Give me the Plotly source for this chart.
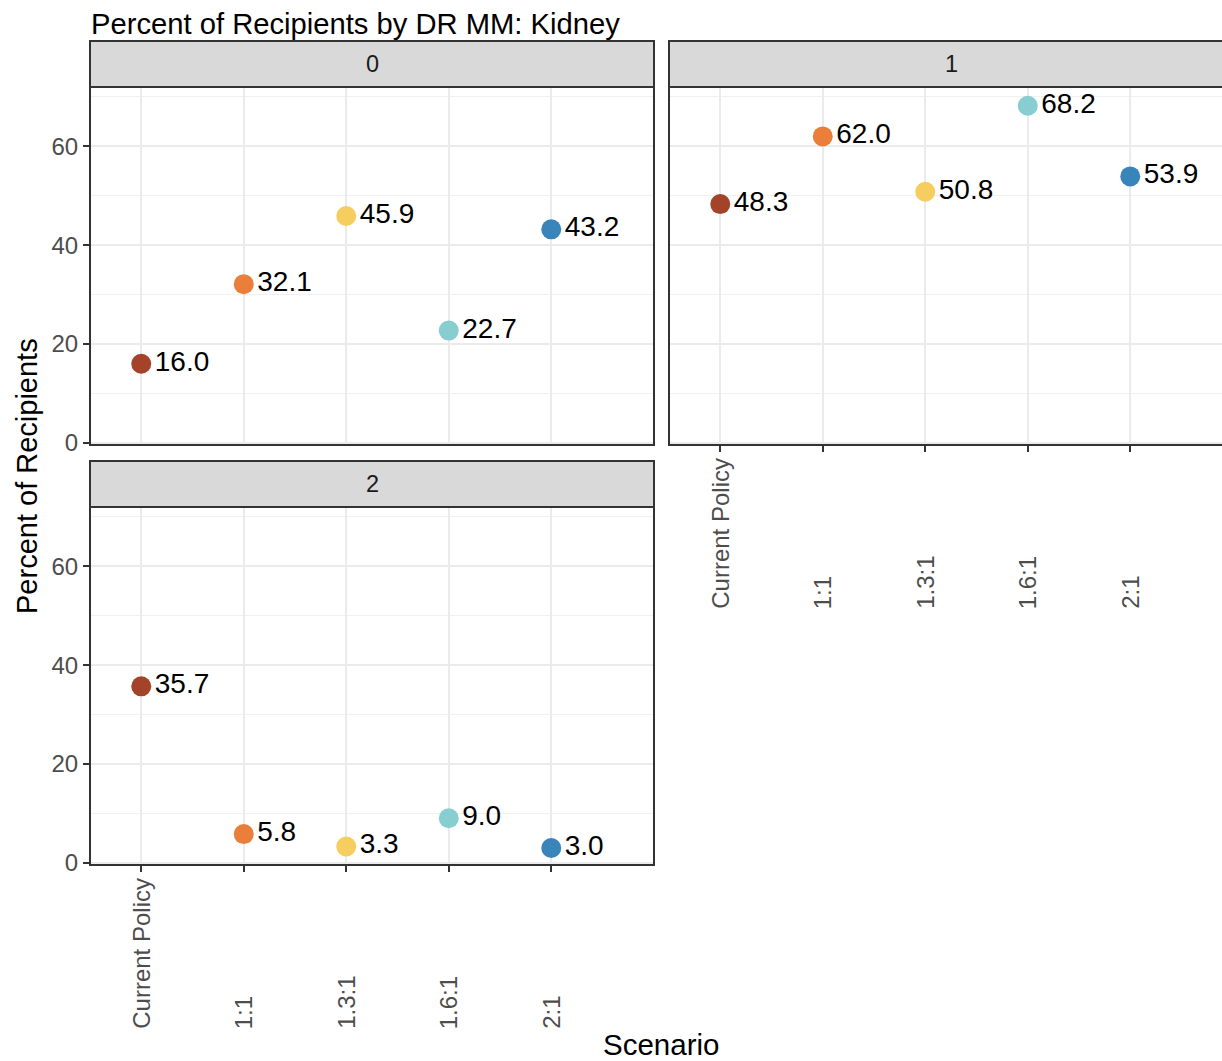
import plotly.graph_objects as go

# ! data
scenarios = ["Current Policy", "1:1", "1.3:1", "1.6:1", "2:1"]
mm_levels = ["0", "1", "2"]
pct_mm0 = [16.0, 32.1, 45.9, 22.7, 43.2]
pct_mm1 = [48.3, 62.0, 50.8, 68.2, 53.9]
pct_mm2 = [35.7, 5.8, 3.3, 9.0, 3.0]
y_ticks = [0, 20, 40, 60]

colors = ["#A3442A", "#EA7F3B", "#F6CE5F", "#88CDD0", "#3985BA"]

W, H = 1222, 1072
REF_H = 1061  # layout is measured in reference pixels
FONT = "Liberation Sans"

def px(v):
    return v / W

def py(v):
    return 1 - v / REF_H

# ! panel geometry (reference pixels)
panels = {
    "0": dict(x0=90, x1=654, top=87, bot=445, strip=41),
    "1": dict(x0=669, x1=W, top=87, bot=445, strip=41),
    "2": dict(x0=90, x1=654, top=507, bot=865, strip=461),
}
values = {"0": pct_mm0, "1": pct_mm1, "2": pct_mm2}
unit = 102.5  # px per category

fig = go.Figure()

shapes = []
annotations = []
layout = {}
for i, lvl in enumerate(mm_levels):
    p = panels[lvl]
    n = "" if i == 0 else str(i + 1)
    fig.add_trace(go.Scatter(
        x=scenarios, y=values[lvl],
        mode="markers+text",
        marker=dict(size=20, color=colors),
        text=[f"{v:.1f}" for v in values[lvl]],
        textposition="middle right",
        textfont=dict(family=FONT, size=28, color="black"),
        xaxis="x" + n, yaxis="y" + n,
        showlegend=False, cliponaxis=False))

    xr = [-0.5, -0.5 + (p["x1"] - p["x0"]) / unit]
    show_xt = lvl in ("1", "2")
    show_yt = lvl in ("0", "2")
    layout["xaxis" + n] = dict(
        domain=[px(p["x0"]), px(p["x1"])], anchor="y" + n,
        type="category", categoryorder="array", categoryarray=scenarios,
        range=xr, showgrid=True, gridcolor="#EBEBEB", gridwidth=1.5,
        zeroline=False, showline=False, showticklabels=False,
        ticks="outside" if show_xt else "", ticklen=6, tickwidth=2, tickcolor="#333333")
    layout["yaxis" + n] = dict(
        domain=[py(p["bot"]), py(p["top"])], anchor="x" + n,
        range=[-0.45, 72.0], tickvals=y_ticks,
        showgrid=True, gridcolor="#EBEBEB", gridwidth=1.5,
        minor=dict(dtick=10, tick0=0, showgrid=True, gridcolor="#F0F0F0", gridwidth=1),
        zeroline=False, showline=False, showticklabels=show_yt,
        ticks="outside" if show_yt else "", ticklen=6, tickwidth=2, tickcolor="#333333",
        tickfont=dict(family=FONT, size=24, color="#4D4D4D"))

    # strip and border
    right = p["x1"] if lvl != "1" else 1233
    shapes.append(dict(type="rect", xref="paper", yref="paper",
                       x0=px(p["x0"]), x1=px(right), y0=py(p["top"]), y1=py(p["strip"]),
                       fillcolor="#D9D9D9", line=dict(color="#333333", width=2), layer="above"))
    shapes.append(dict(type="rect", xref="paper", yref="paper",
                       x0=px(p["x0"]), x1=px(right), y0=py(p["bot"]), y1=py(p["top"]),
                       fillcolor="rgba(0,0,0,0)", line=dict(color="#333333", width=2), layer="above"))
    annotations.append(dict(text=lvl, xref="paper", yref="paper",
                            x=px((p["x0"] + p["x0"] + 564) / 2), y=py((p["strip"] + p["top"]) / 2),
                            xanchor="center", yanchor="middle", showarrow=False,
                            font=dict(family=FONT, size=23.5, color="#1A1A1A")))
    if show_xt:
        for s in scenarios:
            annotations.append(dict(text=s, xref="x" + n, yref="paper",
                                    x=s, y=py(p["bot"] + 166),
                                    textangle=-90, xanchor="center", yanchor="bottom",
                                    showarrow=False,
                                    font=dict(family=FONT, size=24, color="#4D4D4D")))

annotations += [
    dict(text="Percent of Recipients by DR MM: Kidney", xref="paper", yref="paper",
         x=px(89), y=py(24), xanchor="left", yanchor="middle", showarrow=False,
         font=dict(family=FONT, size=29.2, color="black")),
    dict(text="Percent of Recipients", xref="paper", yref="paper",
         x=px(27), y=py(476), xanchor="center", yanchor="middle", textangle=-90,
         showarrow=False, font=dict(family=FONT, size=29, color="black")),
    dict(text="Scenario", xref="paper", yref="paper",
         x=px(661), y=py(1044), xanchor="center", yanchor="middle",
         showarrow=False, font=dict(family=FONT, size=29.5, color="black")),
]

fig.update_layout(
    width=W, height=H,
    margin=dict(l=0, r=0, t=0, b=0),
    plot_bgcolor="white", paper_bgcolor="white",
    font=dict(family=FONT),
    shapes=shapes, annotations=annotations,
    **layout)

fig.write_html("out.html", config={"displayModeBar": False},
               post_script="document.body.style.margin='0';")
